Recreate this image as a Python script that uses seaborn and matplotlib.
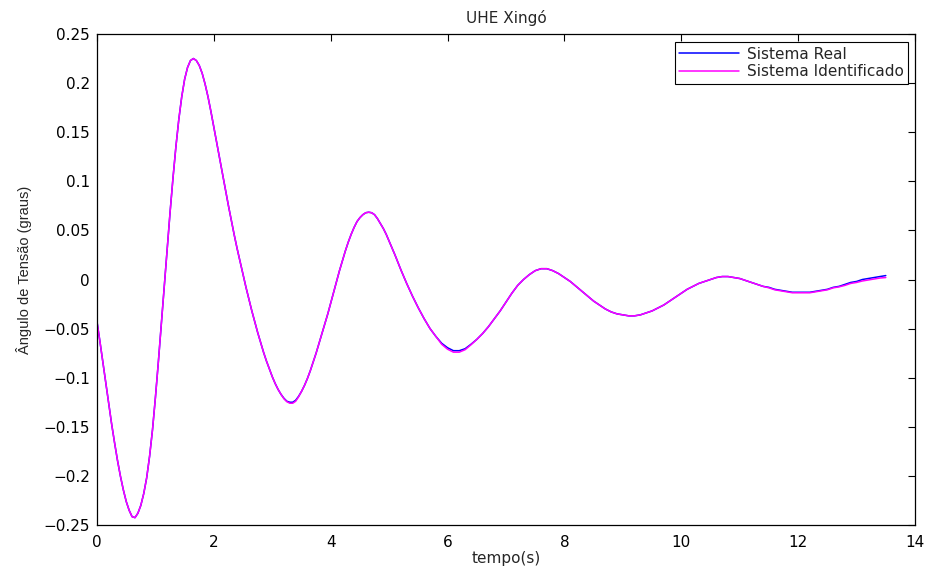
import numpy as np
import pandas as pd
import matplotlib
matplotlib.use("Agg")
import matplotlib.pyplot as plt
import seaborn as sns

# Rotor angle response (graus): 0.05 s samples up to 5 s, then 0.1 s samples
FINE_STEP, FINE_COUNT = 0.05, 100
COARSE_START, COARSE_STEP = 5.0, 0.1

real_inicio = [
    -0.043, -0.063, -0.084, -0.105, -0.126, -0.147, -0.166, -0.184, -0.200, -0.214,
    -0.226, -0.235, -0.2415, -0.2425, -0.238, -0.230, -0.218, -0.202, -0.180, -0.153,
    -0.120, -0.084, -0.046, -0.008, 0.031, 0.068, 0.103, 0.135, 0.163, 0.186,
    0.204, 0.216, 0.223, 0.225, 0.223, 0.218, 0.210, 0.199, 0.186, 0.171,
    0.155, 0.139, 0.123, 0.107, 0.091, 0.075, 0.060, 0.045, 0.031, 0.018,
    0.005, -0.008, -0.020, -0.032, -0.043, -0.054, -0.064, -0.074, -0.083, -0.091,
    -0.099, -0.106, -0.112, -0.117, -0.121, -0.124, -0.125, -0.125, -0.123, -0.119,
    -0.114, -0.108, -0.101, -0.093, -0.084, -0.075, -0.065, -0.055, -0.045, -0.035,
    -0.024, -0.013, -0.002, 0.009, 0.019, 0.029, 0.038, 0.046, 0.053, 0.059,
    0.063, 0.066, 0.068, 0.0685, 0.068, 0.066, 0.062, 0.057, 0.052, 0.046,
]
real_final = [
    0.039, 0.025, 0.010, -0.004, -0.017, -0.029, -0.040, -0.050, -0.058, -0.065,
    -0.0695, -0.0725, -0.0725, -0.0705, -0.066, -0.061, -0.055, -0.048, -0.040, -0.032,
    -0.023, -0.014, -0.006, 0.000, 0.005, 0.009, 0.011, 0.011, 0.009, 0.006,
    0.002, -0.002, -0.007, -0.012, -0.017, -0.022, -0.026, -0.030, -0.033, -0.035,
    -0.036, -0.037, -0.037, -0.036, -0.034, -0.032, -0.029, -0.026, -0.022, -0.018,
    -0.014, -0.010, -0.007, -0.004, -0.002, 0.000, 0.002, 0.003, 0.003, 0.002,
    0.001, -0.001, -0.003, -0.005, -0.007, -0.008, -0.010, -0.011, -0.012, -0.013,
    -0.013, -0.013, -0.013, -0.012, -0.011, -0.010, -0.008, -0.007, -0.005, -0.003,
    -0.002, 0.000, 0.001, 0.002, 0.003, 0.004,
]
ident_inicio = [
    -0.043, -0.063, -0.084, -0.105, -0.126, -0.147, -0.166, -0.184, -0.200, -0.214,
    -0.226, -0.235, -0.2415, -0.2425, -0.238, -0.230, -0.218, -0.202, -0.180, -0.153,
    -0.120, -0.084, -0.046, -0.008, 0.031, 0.068, 0.103, 0.135, 0.163, 0.186,
    0.204, 0.216, 0.223, 0.225, 0.223, 0.218, 0.210, 0.199, 0.186, 0.171,
    0.155, 0.139, 0.123, 0.107, 0.091, 0.075, 0.060, 0.045, 0.031, 0.018,
    0.005, -0.008, -0.020, -0.032, -0.043, -0.054, -0.064, -0.074, -0.083, -0.091,
    -0.099, -0.106, -0.112, -0.117, -0.1215, -0.1245, -0.126, -0.126, -0.124, -0.1195,
    -0.114, -0.108, -0.101, -0.093, -0.084, -0.075, -0.065, -0.055, -0.045, -0.035,
    -0.024, -0.013, -0.002, 0.009, 0.019, 0.029, 0.038, 0.046, 0.053, 0.059,
    0.063, 0.066, 0.068, 0.0685, 0.068, 0.066, 0.062, 0.057, 0.052, 0.046,
]
ident_final = [
    0.039, 0.025, 0.010, -0.004, -0.017, -0.029, -0.040, -0.050, -0.058, -0.066,
    -0.071, -0.074, -0.074, -0.0715, -0.0665, -0.061, -0.055, -0.048, -0.040, -0.032,
    -0.023, -0.014, -0.006, 0.000, 0.005, 0.009, 0.011, 0.011, 0.009, 0.006,
    0.002, -0.002, -0.007, -0.012, -0.017, -0.022, -0.026, -0.030, -0.033, -0.035,
    -0.036, -0.037, -0.037, -0.036, -0.034, -0.032, -0.029, -0.026, -0.022, -0.018,
    -0.014, -0.010, -0.007, -0.004, -0.002, 0.000, 0.002, 0.003, 0.003, 0.002,
    0.001, -0.001, -0.003, -0.005, -0.007, -0.0085, -0.0105, -0.0115, -0.0125, -0.0135,
    -0.0135, -0.0135, -0.0135, -0.0125, -0.0115, -0.0105, -0.0085, -0.0075, -0.006, -0.004,
    -0.003, -0.0015, -0.0005, 0.0005, 0.0015, 0.002,
]
series_labels = ["Sistema Real", "Sistema Identificado"]
series_colors = ["#0000ff", "#ff00ff"]

x_ticks = [0, 2, 4, 6, 8, 10, 12, 14]
y_ticks = [-0.25, -0.2, -0.15, -0.1, -0.05, 0, 0.05, 0.1, 0.15, 0.2, 0.25]
y_tick_labels = ["\u22120.25", "\u22120.2", "\u22120.15", "\u22120.1", "\u22120.05",
                 "0", "0.05", "0.1", "0.15", "0.2", "0.25"]

tempo = np.round(np.concatenate([
    np.arange(FINE_COUNT) * FINE_STEP,
    COARSE_START + np.arange(len(real_final)) * COARSE_STEP,
]), 2)
sistema_real = real_inicio + real_final
sistema_identificado = ident_inicio + ident_final

df = pd.concat([
    pd.DataFrame({"tempo": tempo, "valor": sistema_real, "serie": series_labels[0]}),
    pd.DataFrame({"tempo": tempo, "valor": sistema_identificado, "serie": series_labels[1]}),
], ignore_index=True)

sns.set_style("white")
plt.rcParams["font.family"] = ["DejaVu Sans"]

fig = plt.figure(figsize=(9.32, 5.71), dpi=100)
ax = fig.add_axes([97 / 932, 46 / 571, 818 / 932, 491 / 571])

sns.lineplot(data=df, x="tempo", y="valor", hue="serie", hue_order=series_labels,
             palette=series_colors, estimator=None, linewidth=1.1, legend=False, ax=ax)

ax.set_xlim(0, 14)
ax.set_ylim(-0.25, 0.25)
ax.set_xticks(x_ticks)
ax.set_xticklabels([str(v) for v in x_ticks])
ax.set_yticks(y_ticks)
ax.set_yticklabels(y_tick_labels)

for side in ax.spines.values():
    side.set_visible(True)
    side.set_color("black")
    side.set_linewidth(0.9)

ax.tick_params(direction="in", top=True, right=True, length=5, width=0.8,
               colors="black", labelsize=11)
ax.tick_params(axis="x", pad=7)
ax.tick_params(axis="y", pad=5)

ax.set_title("UHE Xingó", fontsize=11, pad=8)
ax.set_xlabel("tempo(s)", fontsize=11, labelpad=1)
ax.set_ylabel("Ângulo de Tensão (graus)", fontsize=10.5,
              family=["Liberation Sans", "DejaVu Sans"])
ax.yaxis.set_label_coords(-0.0795, 0.519)

leg = ax.legend(ax.get_lines()[:2], series_labels, loc="upper right",
                bbox_to_anchor=(0.9914, 0.9837), borderaxespad=0, frameon=True,
                fancybox=False, edgecolor="black", framealpha=1, fontsize=11,
                handlelength=3.9, handletextpad=0.5, labelspacing=0.18, borderpad=0.3)
leg.get_frame().set_linewidth(0.8)

fig.savefig("out.png", dpi=100, facecolor="white")
